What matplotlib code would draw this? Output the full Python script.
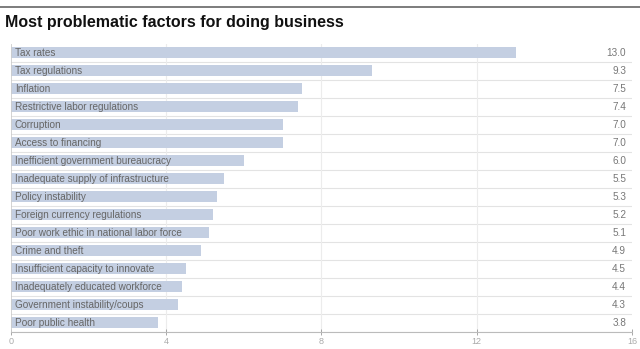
import matplotlib.pyplot as plt

factors = ["Tax rates", "Tax regulations", "Inflation", "Restrictive labor regulations",
           "Corruption", "Access to financing", "Inefficient government bureaucracy",
           "Inadequate supply of infrastructure", "Policy instability",
           "Foreign currency regulations", "Poor work ethic in national labor force",
           "Crime and theft", "Insufficient capacity to innovate",
           "Inadequately educated workforce", "Government instability/coups",
           "Poor public health"]
values = [13.0, 9.3, 7.5, 7.4, 7.0, 7.0, 6.0, 5.5, 5.3, 5.2, 5.1, 4.9, 4.5, 4.4, 4.3, 3.8]
xticks = [0, 4, 8, 12, 16]

plt.rcParams["font.family"] = ["Liberation Sans", "DejaVu Sans"]

fig = plt.figure(figsize=(6.4, 3.49), dpi=100)
fig.patch.set_facecolor("white")

# top rule and title
fig.add_artist(plt.Line2D([0, 1], [0.98, 0.98], color="#666666", linewidth=1.2))
fig.text(0.008, 0.935, "Most problematic factors for doing business",
         fontsize=11.5, fontweight="bold", va="center", ha="left", color="#111111")

ax = fig.add_axes([0.017, 0.049, 0.9705, 0.826])
y = list(range(len(factors)))
ax.barh(y, values, height=0.62, color="#c4cfe2", zorder=2)

for i, (name, v) in enumerate(zip(factors, values)):
    ax.text(0.1, i, name, va="center", ha="left", fontsize=7.2, color="#666666", zorder=3)
    ax.text(15.85, i, f"{v:.1f}", va="center", ha="right", fontsize=7.2, color="#777777", zorder=3)

# row separators and vertical grid
for i in range(len(factors)):
    ax.axhline(i + 0.5, color="#e3e3e3", linewidth=0.8, zorder=1)
for t in xticks[1:-1]:
    ax.axvline(t, color="#ececec", linewidth=0.8, zorder=1)

ax.set_xlim(0, 16)
ax.set_ylim(len(factors) - 0.5, -0.5)
ax.set_xticks(xticks)
ax.set_yticks([])
ax.tick_params(axis="x", direction="inout", length=5, width=0.6, colors="#999999",
               labelsize=6.5, labelcolor="#aaaaaa", pad=1)
for s in ["top", "right"]:
    ax.spines[s].set_visible(False)
ax.spines["bottom"].set_color("#bbbbbb")
ax.spines["left"].set_color("#cccccc")
ax.spines["bottom"].set_linewidth(0.8)
ax.spines["left"].set_linewidth(0.6)

plt.savefig("out.png", dpi=100)
